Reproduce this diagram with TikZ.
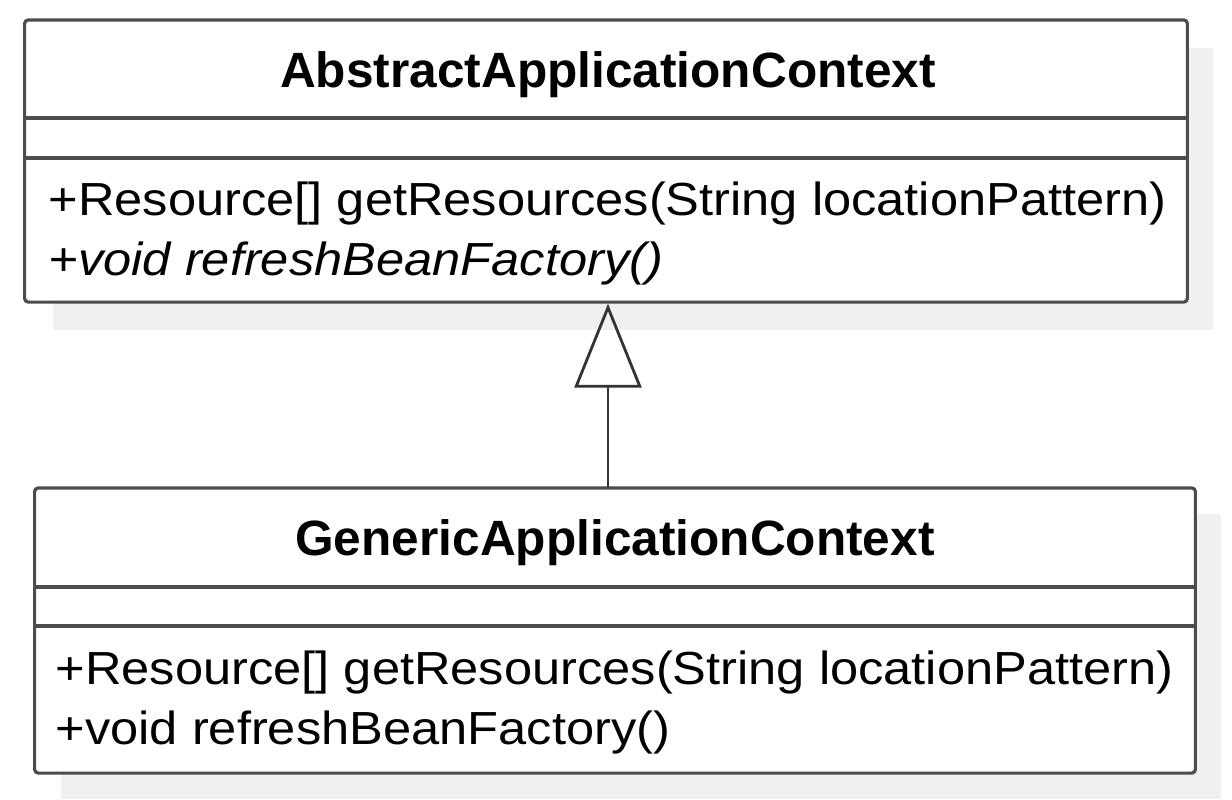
\documentclass[tikz,border=0pt]{standalone}
\usepackage{fontspec}
\setmainfont{Liberation Sans}
\newfontfamily\memberfont[FakeStretch=1.09]{Liberation Sans}
\usetikzlibrary{positioning, arrows.meta, calc}

\tikzset{
  classbox/.style={draw=black!70, line width=0.9pt, fill=white, rounded corners=1pt, inner sep=0pt},
  classshadow/.style={fill=black!6, draw=none},
  divider/.style={draw=black!70, line width=0.9pt},
  classname/.style={anchor=base, inner sep=0pt, font=\fontsize{14.1}{16}\selectfont\bfseries},
  member/.style={anchor=base west, inner sep=0pt, font=\memberfont\fontsize{13.2}{16}\selectfont},
  inherit/.style={draw=black!80, line width=0.8pt, -{Triangle[open, length=0.84cm, width=0.67cm, line width=0.8pt]}}
}

\begin{document}
\begin{tikzpicture}[x=0.01cm, y=-0.01cm, line cap=round, line join=round]

  % Lienzo (proporciones de la referencia)
  \useasboundingbox (0,0) rectangle (1232,799);

  % --- Sombras ---
  \fill[classshadow] (53,48) rectangle (1213,330);
  \fill[classshadow] (61,514) rectangle (1221,799);

  % --- Clase padre ---
  \node[classbox, minimum width=11.62cm, minimum height=2.82cm] (abs) at (606,161) {};
  \draw[divider] (25,118) -- (1187,118);
  \draw[divider] (25,158) -- (1187,158);
  \node[classname] (absname) at (608,87) {AbstractApplicationContext};
  \node[member] (absget) at (48,215) {+Resource[] getResources(String locationPattern)};
  \node[member] (absref) at (48,275) {\itshape +void refreshBeanFactory()};

  % --- Clase hija ---
  \node[classbox, minimum width=11.60cm, minimum height=2.85cm] (gen) at (615,630.5) {};
  \draw[divider] (35,587) -- (1195,587);
  \draw[divider] (35,626) -- (1195,626);
  \node[classname] (genname) at (615,555) {GenericApplicationContext};
  \node[member] (genget) at (55,684) {+Resource[] getResources(String locationPattern)};
  \node[member] (genref) at (55,744) {+void refreshBeanFactory()};

  % --- Herencia ---
  \coordinate (gentop) at (gen.north -| 608,0);
  \draw[inherit] (gentop) -- (gentop |- abs.south);

\end{tikzpicture}
\end{document}
